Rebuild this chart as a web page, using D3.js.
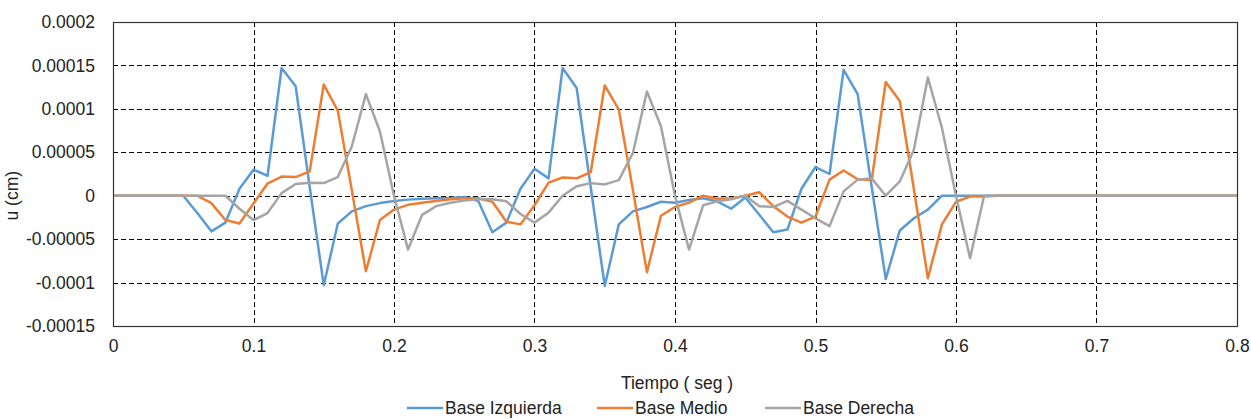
<!DOCTYPE html>
<html>
<head>
<meta charset="utf-8">
<script src="https://cdn.jsdelivr.net/npm/d3@7"></script>
<style>
  html, body { margin: 0; padding: 0; background: #fff; }
  svg { display: block; }
  text { font-family: "Liberation Sans", Arial, sans-serif; fill: #222; }
</style>
</head>
<body>
<svg id="chart" width="1251" height="419"></svg>
<script>
// Time axis (seconds), sampled every 0.01 s from 0 to 0.8
const tiempo = d3.range(0, 81).map(i => +(i * 0.01).toFixed(2));

// Series values in units of 1e-5 cm (index = time step)
const baseIzquierda = [
  0, 0, 0, 0, 0, 0, -2.0, -4.1, -3.1, 0.8,
  3.0, 2.3, 14.7, 12.6, 1.0, -10.3, -3.2, -1.8, -1.2, -0.85,
  -0.6, -0.45, -0.35, -0.3, -0.25, -0.15, -0.6, -4.2, -3.1, 0.8,
  3.1, 2.0, 14.7, 12.4, 1.0, -10.4, -3.3, -1.8, -1.3, -0.7,
  -0.8, -0.5, -0.3, -0.65, -1.5, -0.2, -2.2, -4.2, -3.9, 0.8,
  3.3, 2.5, 14.5, 11.7, 1.0, -9.6, -4.0, -2.6, -1.6, 0,
  0, 0, 0, 0, 0, 0, 0, 0, 0, 0,
  0, 0, 0, 0, 0, 0, 0, 0, 0, 0, 0
];
const baseMedio = [
  0, 0, 0, 0, 0, 0, 0, -0.85, -2.8, -3.2,
  -0.9, 1.4, 2.2, 2.15, 2.8, 12.8, 9.8, 0.6, -8.7, -2.8,
  -1.6, -1.05, -0.8, -0.6, -0.4, -0.3, -0.3, -0.7, -3.0, -3.3,
  -1.1, 1.5, 2.1, 2.0, 2.7, 12.7, 9.9, 0.7, -8.8, -2.3,
  -1.3, -0.8, 0, -0.35, -0.3, 0, 0.4, -1.2, -2.4, -3.1,
  -2.4, 1.85, 2.9, 1.9, 1.8, 13.1, 10.9, 0.8, -9.5, -3.3,
  -0.7, -0.1, -0.1, 0, 0, 0, 0, 0, 0, 0,
  0, 0, 0, 0, 0, 0, 0, 0, 0, 0, 0
];
const baseDerecha = [
  0, 0, 0, 0, 0, 0, 0, 0, 0, -1.5,
  -2.8, -2.0, 0.3, 1.35, 1.5, 1.45, 2.15, 5.7, 11.7, 7.4,
  0, -6.2, -2.2, -1.2, -0.8, -0.55, -0.4, -0.4, -0.65, -2.1,
  -3.1, -1.95, 0, 1.1, 1.45, 1.3, 1.8, 4.9, 12.0, 8.0,
  0, -6.2, -1.1, -0.65, -0.4, 0, -1.2, -1.3, -0.6, -1.6,
  -2.6, -3.5, 0.5, 1.85, 2.0, 0, 1.65, 5.3, 13.6, 7.8,
  0, -7.2, 0, 0, 0, 0, 0, 0, 0, 0,
  0, 0, 0, 0, 0, 0, 0, 0, 0, 0, 0
];
const valueScale = 1e-5;

const seriesNames = ["Base Izquierda", "Base Medio", "Base Derecha"];
const seriesColors = ["#5B9BD5", "#ED7D31", "#A5A5A5"];

const xTicks = [0, 0.1, 0.2, 0.3, 0.4, 0.5, 0.6, 0.7, 0.8];
const xTickLabels = ["0", "0.1", "0.2", "0.3", "0.4", "0.5", "0.6", "0.7", "0.8"];
const yTicks = [0.0002, 0.00015, 0.0001, 0.00005, 0, -0.00005, -0.0001, -0.00015];
const yTickLabels = ["0.0002", "0.00015", "0.0001", "0.00005", "0", "-0.00005", "-0.0001", "-0.00015"];

const xTitle = "Tiempo ( seg )";
const yTitle = "u (cm)";

// Layout
const W = 1251, H = 419;
const margin = { left: 113, right: 14, top: 22, bottom: 93 };
const pw = W - margin.left - margin.right;
const ph = H - margin.top - margin.bottom;
const FS = 17.5;

const svg = d3.select("#chart");
const g = svg.append("g").attr("transform", `translate(${margin.left},${margin.top})`);

const x = d3.scaleLinear().domain([0, 0.8]).range([0, pw]);
const y = d3.scaleLinear().domain([-0.00015, 0.0002]).range([ph, 0]);

// Grid lines
g.append("g").selectAll("line")
  .data(yTicks.filter(v => v !== 0.0002 && v !== -0.00015))
  .join("line")
  .attr("x1", 0).attr("x2", pw)
  .attr("y1", d => Math.round(y(d)) + 0.5).attr("y2", d => Math.round(y(d)) + 0.5)
  .attr("stroke", "#000").attr("stroke-width", 1).attr("stroke-dasharray", "5,3");

g.append("g").selectAll("line")
  .data(xTicks.filter(v => v !== 0 && v !== 0.8))
  .join("line")
  .attr("x1", d => Math.round(x(d)) + 0.5).attr("x2", d => Math.round(x(d)) + 0.5)
  .attr("y1", 0).attr("y2", ph)
  .attr("stroke", "#000").attr("stroke-width", 1).attr("stroke-dasharray", "5,3");

// Axes (labels via d3 axis)
const xAxis = d3.axisBottom(x).tickValues(xTicks)
  .tickFormat((d, i) => xTickLabels[i]).tickSize(0).tickPadding(14);
const gx = g.append("g").attr("transform", `translate(0,${ph})`).call(xAxis);
gx.select(".domain").remove();
gx.selectAll("text").attr("font-size", FS).attr("fill", "#222")
  .attr("font-family", "'Liberation Sans', Arial, sans-serif");

const yAxis = d3.axisLeft(y).tickValues(yTicks)
  .tickFormat((d, i) => yTickLabels[i]).tickSize(0).tickPadding(18);
const gy = g.append("g").call(yAxis);
gy.select(".domain").remove();
gy.selectAll("text").attr("font-size", FS).attr("fill", "#222")
  .attr("font-family", "'Liberation Sans', Arial, sans-serif");

// Series lines
const allSeries = [baseIzquierda, baseMedio, baseDerecha];
const line = d3.line().x((d, i) => x(tiempo[i])).y(d => y(d * valueScale));
allSeries.forEach((s, k) => {
  g.append("path").datum(s)
    .attr("fill", "none")
    .attr("stroke", seriesColors[k])
    .attr("stroke-width", 2.5)
    .attr("stroke-linejoin", "round")
    .attr("d", line);
});

// Plot frame
g.append("rect").attr("x", 0.5).attr("y", 0.5).attr("width", pw).attr("height", ph)
  .attr("fill", "none").attr("stroke", "#333").attr("stroke-width", 1.2);

// Titles
svg.append("text").attr("x", margin.left + pw / 2 + 2).attr("y", 389)
  .attr("text-anchor", "middle").attr("font-size", FS).text(xTitle);
svg.append("text")
  .attr("transform", `translate(18,${margin.top + y(0)}) rotate(-90)`)
  .attr("text-anchor", "middle").attr("font-size", FS).text(yTitle);

// Legend
const legendY = 408;
const legendX = [407, 597, 765];
const lg = svg.append("g");
seriesNames.forEach((name, k) => {
  const gi = lg.append("g").attr("transform", `translate(${legendX[k]},${legendY})`);
  gi.append("line").attr("x1", 0).attr("x2", 36).attr("y1", 0).attr("y2", 0)
    .attr("stroke", seriesColors[k]).attr("stroke-width", 2.5);
  gi.append("text").attr("x", 38).attr("y", 6).attr("font-size", FS).text(name);
});
</script>
</body>
</html>
